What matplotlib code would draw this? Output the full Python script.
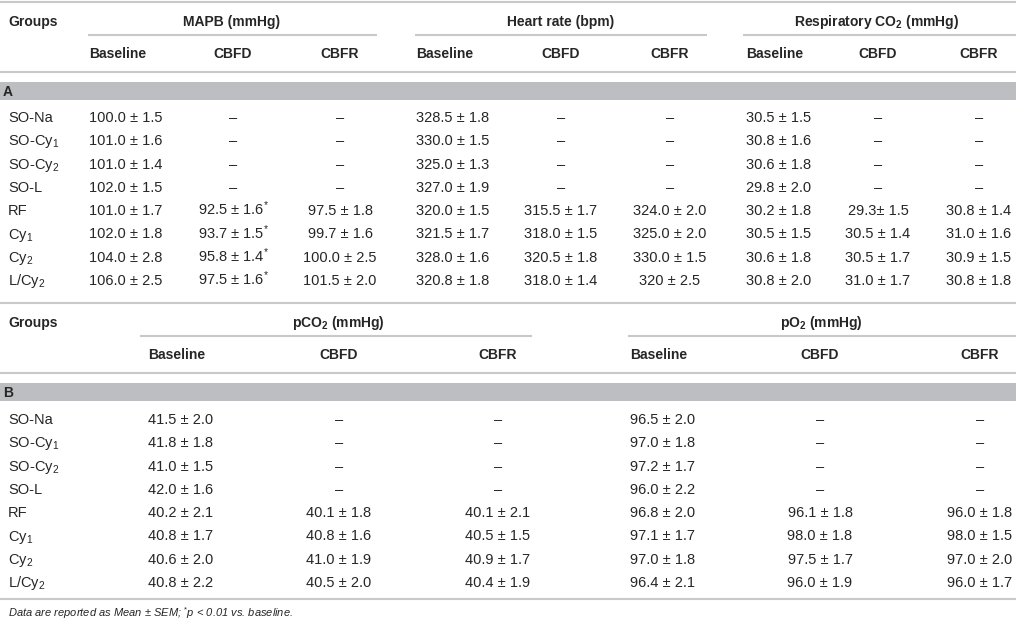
import matplotlib
matplotlib.use("Agg")
import matplotlib.pyplot as plt

plt.rcParams['font.family'] = ['Liberation Sans', 'DejaVu Sans']
plt.rcParams['mathtext.fontset'] = 'custom'
plt.rcParams['mathtext.rm'] = 'Liberation Sans'
plt.rcParams['mathtext.it'] = 'Liberation Sans:italic'
plt.rcParams['mathtext.bf'] = 'Liberation Sans:bold'

# Data
groups = ["SO-Na", "SO-Cy$_1$", "SO-Cy$_2$", "SO-L", "RF", "Cy$_1$", "Cy$_2$", "L/Cy$_2$"]
conditions = ["Baseline", "CBFD", "CBFR"]
D = "–"
S = "$^{*}$"

mapb_base = ["100.0 ± 1.5", "101.0 ± 1.6", "101.0 ± 1.4", "102.0 ± 1.5",
             "101.0 ± 1.7", "102.0 ± 1.8", "104.0 ± 2.8", "106.0 ± 2.5"]
mapb_cbfd = [D, D, D, D, "92.5 ± 1.6" + S, "93.7 ± 1.5" + S, "95.8 ± 1.4" + S, "97.5 ± 1.6" + S]
mapb_cbfr = [D, D, D, D, "97.5 ± 1.8", "99.7 ± 1.6", "100.0 ± 2.5", "101.5 ± 2.0"]

hr_base = ["328.5 ± 1.8", "330.0 ± 1.5", "325.0 ± 1.3", "327.0 ± 1.9",
           "320.0 ± 1.5", "321.5 ± 1.7", "328.0 ± 1.6", "320.8 ± 1.8"]
hr_cbfd = [D, D, D, D, "315.5 ± 1.7", "318.0 ± 1.5", "320.5 ± 1.8", "318.0 ± 1.4"]
hr_cbfr = [D, D, D, D, "324.0 ± 2.0", "325.0 ± 2.0", "330.0 ± 1.5", "320 ± 2.5"]

resp_base = ["30.5 ± 1.5", "30.8 ± 1.6", "30.6 ± 1.8", "29.8 ± 2.0",
             "30.2 ± 1.8", "30.5 ± 1.5", "30.6 ± 1.8", "30.8 ± 2.0"]
resp_cbfd = [D, D, D, D, "29.3± 1.5", "30.5 ± 1.4", "30.5 ± 1.7", "31.0 ± 1.7"]
resp_cbfr = [D, D, D, D, "30.8 ± 1.4", "31.0 ± 1.6", "30.9 ± 1.5", "30.8 ± 1.8"]

pco2_base = ["41.5 ± 2.0", "41.8 ± 1.8", "41.0 ± 1.5", "42.0 ± 1.6",
             "40.2 ± 2.1", "40.8 ± 1.7", "40.6 ± 2.0", "40.8 ± 2.2"]
pco2_cbfd = [D, D, D, D, "40.1 ± 1.8", "40.8 ± 1.6", "41.0 ± 1.9", "40.5 ± 2.0"]
pco2_cbfr = [D, D, D, D, "40.1 ± 2.1", "40.5 ± 1.5", "40.9 ± 1.7", "40.4 ± 1.9"]

po2_base = ["96.5 ± 2.0", "97.0 ± 1.8", "97.2 ± 1.7", "96.0 ± 2.2",
            "96.8 ± 2.0", "97.1 ± 1.7", "97.0 ± 1.8", "96.4 ± 2.1"]
po2_cbfd = [D, D, D, D, "96.1 ± 1.8", "98.0 ± 1.8", "97.5 ± 1.7", "96.0 ± 1.9"]
po2_cbfr = [D, D, D, D, "96.0 ± 1.8", "98.0 ± 1.5", "97.0 ± 2.0", "96.0 ± 1.7"]

TXT = "#262626"
RULE = "#c9c9c9"
BAND = "#bdbec1"

W, H = 1016, 624
fig = plt.figure(figsize=(W / 100, H / 100), dpi=100)
ax = fig.add_axes([0, 0, 1, 1])
ax.set_xlim(0, W)
ax.set_ylim(H, 0)
ax.axis("off")


def rule(y, x0=0, x1=W, lw=1.5):
    ax.plot([x0, x1], [y, y], color=RULE, lw=lw, solid_capstyle="butt")


def txt(x, y, s, ha="left", bold=False, **kw):
    ax.text(x, y + 5, s, ha=ha, va="baseline", fontsize=10 if bold else 10.5,
            color=TXT, fontweight="bold" if bold else "normal", **kw)


def block(top, label, blocks, row0):
    # blocks: (title, title_x, line_x0, line_x1, base_x, cbfd_x, cbfr_x, cols)
    rule(top)
    txt(8, top + 19, "Groups", bold=True)
    for title, tx, lx0, lx1, bx, dx, rx, cols in blocks:
        txt(tx, top + 19, title, ha="center", bold=True)
        rule(top + 32.5, lx0, lx1)
        txt(bx, top + 51, conditions[0], bold=True)
        txt(dx, top + 51, conditions[1], ha="center", bold=True)
        txt(rx, top + 51, conditions[2], ha="center", bold=True)
        for i in range(len(groups)):
            y = row0 + 23.3 * i
            txt(bx, y, cols[0][i])
            txt(dx, y, cols[1][i], ha="center")
            txt(rx, y, cols[2][i], ha="center")
    rule(top + 69.5)
    ax.fill_between([0, W], top + 80, top + 98, color=BAND, lw=0)
    txt(3, top + 89, label, bold=True)
    for i, g in enumerate(groups):
        txt(8, row0 + 23.3 * i, g)


block(2, "A", [
    ("MAPB (mmHg)", 232, 88, 377, 89, 233, 340, (mapb_base, mapb_cbfd, mapb_cbfr)),
    ("Heart rate (bpm)", 561, 415, 707, 416, 561, 670, (hr_base, hr_cbfd, hr_cbfr)),
    ("Respiratory CO$_\\mathbf{2}$ (mmHg)", 877, 743, W, 746, 878, 979,
     (resp_base, resp_cbfd, resp_cbfr)),
], 117)

block(303, "B", [
    ("pCO$_\\mathbf{2}$ (mmHg)", 338, 140, 532, 148, 339, 498, (pco2_base, pco2_cbfd, pco2_cbfr)),
    ("pO$_\\mathbf{2}$ (mmHg)", 821, 628, W, 630, 820, 980, (po2_base, po2_cbfd, po2_cbfr)),
], 419)

rule(599)
ax.text(8, 617, "Data are reported as Mean ± SEM; $^{*}$$\\mathit{p}$ < 0.01 vs. baseline.",
        ha="left", va="baseline", fontsize=8, style="italic", color=TXT)

fig.savefig("out.png", dpi=100)
